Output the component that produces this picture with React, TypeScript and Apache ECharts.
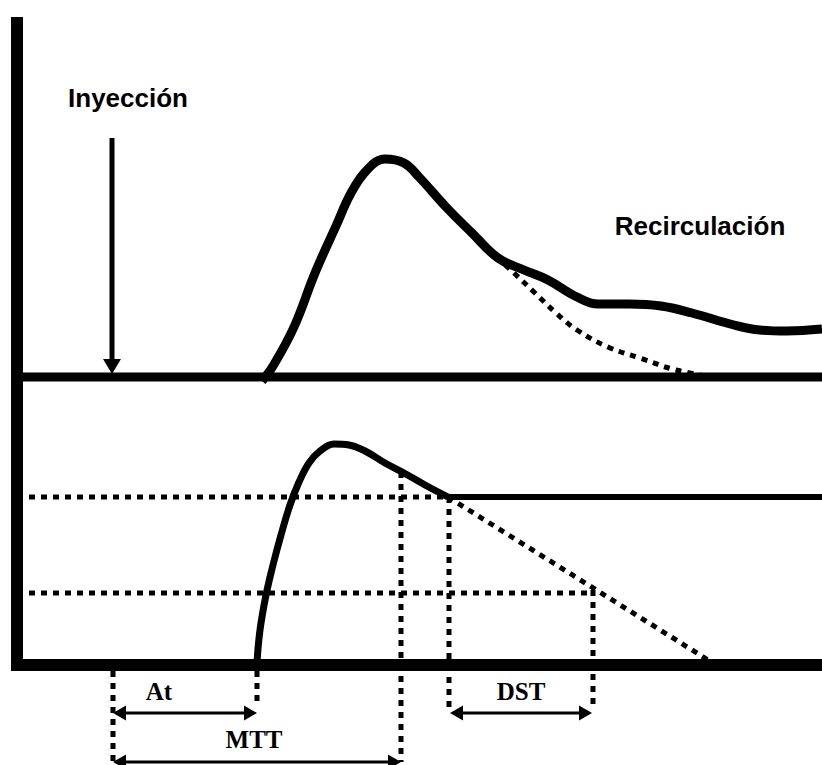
import React, { useEffect, useRef } from "react";
import * as echarts from "echarts";

// Coordinates are in diagram units (x: time, y: signal measured downward from the top).
const leftAxis: number[][] = [[17, 17], [17, 671]];
const bottomAxis: number[][] = [[11, 665], [822, 665]];
const topBaseline: number[][] = [[17, 377], [822, 377]];

const topCurve: number[][] = [
  [262, 381], [273, 366], [294, 327], [315, 273], [336, 226], [351, 193], [367, 170],
  [385, 159], [404, 163], [419, 177], [446, 207], [472, 233], [498, 258], [524, 270],
  [548, 280], [577, 297], [598, 304], [629, 304], [661, 306], [692, 313], [734, 325],
  [760, 330], [787, 331], [822, 329],
];
const topExtrapolation: number[][] = [
  [496, 257], [514, 273], [535, 293], [556, 313], [577, 330], [608, 347], [640, 358],
  [676, 370], [718, 378],
];

const bottomCurve: number[][] = [
  [257, 662], [260, 630], [266, 595], [273, 565], [281, 535], [290, 505], [299, 482],
  [309, 463], [320, 451], [334, 444], [349, 445], [365, 451], [385, 463], [404, 473],
  [425, 485], [448, 497],
];
const plateau: number[][] = [[448, 497], [822, 497]];
const bottomDecay: number[][] = [[448, 497], [708, 660]];

const dottedLines: number[][][] = [
  [[17, 497], [448, 497]],
  [[17, 593], [593, 593]],
  [[401, 472], [401, 762]],
  [[449, 497], [449, 707]],
  [[593, 590], [593, 707]],
  [[113, 671], [113, 762]],
  [[257, 671], [257, 707]],
];

// injection arrow: [tail, tip]
const injectionArrow: number[][] = [[112, 138], [112, 374]];
// double arrows: [left tip, right tip]
const doubleArrows: number[][][] = [
  [[113, 713], [257, 713]],
  [[113, 762], [401, 762]],
  [[450, 713], [592, 713]],
];

const sansLabels: { name: string; value: number[] }[] = [
  { name: "Inyección", value: [128, 98] },
  { name: "Recirculación", value: [700, 226] },
];
const serifLabels: { name: string; value: number[] }[] = [
  { name: "At", value: [159, 691] },
  { name: "MTT", value: [254, 739] },
  { name: "DST", value: [521, 691] },
];

function lineSeries(data: number[][], width: number, dashed = false, smooth: number | boolean = false) {
  return {
    type: "line",
    data,
    symbol: "none",
    smooth,
    silent: true,
    clip: false,
    lineStyle: { color: "#000", width, type: dashed ? [6, 6] : "solid", cap: "butt", join: "round" },
  };
}

function arrowDown(a: number[][]) {
  const headLen = 15;
  const [tail, tip] = a;
  return {
    type: "line",
    symbol: "triangle",
    silent: true,
    clip: false,
    lineStyle: { color: "#000", width: 5 },
    itemStyle: { color: "#000" },
    data: [
      { value: tail, symbol: "none" },
      { value: [tip[0], tip[1] - 8], symbol: "none" },
      { value: [tip[0], tip[1] - headLen / 2], symbol: "triangle", symbolSize: [18, headLen], symbolRotate: 180 },
    ],
  };
}

function doubleArrow(a: number[][]) {
  const headLen = 13;
  const [l, r] = a;
  return {
    type: "line",
    symbol: "triangle",
    silent: true,
    clip: false,
    lineStyle: { color: "#000", width: 3 },
    itemStyle: { color: "#000" },
    data: [
      { value: [l[0] + 3, l[1]], symbol: "none" },
      { value: [l[0] + headLen / 2, l[1]], symbol: "triangle", symbolSize: [15, headLen], symbolRotate: 90 },
      { value: [r[0] - headLen / 2, r[1]], symbol: "triangle", symbolSize: [15, headLen], symbolRotate: -90 },
      { value: [r[0] - 3, r[1]], symbol: "none" },
    ],
  };
}

function labelSeries(data: { name: string; value: number[] }[], fontFamily: string, fontSize: number) {
  return {
    type: "scatter",
    data,
    symbolSize: 1,
    silent: true,
    itemStyle: { color: "rgba(0,0,0,0)", opacity: 1 },
    label: {
      show: true,
      position: "inside",
      formatter: "{b}",
      color: "#000",
      opacity: 1,
      textBorderWidth: 0,
      fontFamily,
      fontSize,
      fontWeight: "bold",
    },
  };
}

export default function App() {
  const ref = useRef<HTMLDivElement>(null);
  useEffect(() => {
    document.body.style.margin = "0";
    if (!ref.current) return;
    const chart = echarts.init(ref.current, undefined, { renderer: "svg" });
    const series: any[] = [
      ...dottedLines.map((d) => lineSeries(d, 5, true)),
      lineSeries(bottomDecay, 5, true),
      lineSeries(topExtrapolation, 5, true, 0.4),
      lineSeries(leftAxis, 12),
      lineSeries(bottomAxis, 12),
      lineSeries(topBaseline, 9),
      lineSeries(topCurve, 9, false, 0.4),
      lineSeries(bottomCurve, 7, false, 0.4),
      lineSeries(plateau, 6),
      arrowDown(injectionArrow),
      ...doubleArrows.map(doubleArrow),
      labelSeries(sansLabels, "'Liberation Sans', Arial, sans-serif", 26),
      labelSeries(serifLabels, "'Liberation Serif', 'Times New Roman', serif", 25),
    ];
    chart.setOption({
      animation: false,
      backgroundColor: "#fff",
      grid: { left: 0, right: 0, top: 0, bottom: 0, containLabel: false },
      xAxis: { type: "value", min: 0, max: 822, show: false },
      yAxis: { type: "value", min: 0, max: 765, inverse: true, show: false },
      series,
    });
    return () => chart.dispose();
  }, []);
  return <div ref={ref} style={{ width: 822, height: 765 }} />;
}
